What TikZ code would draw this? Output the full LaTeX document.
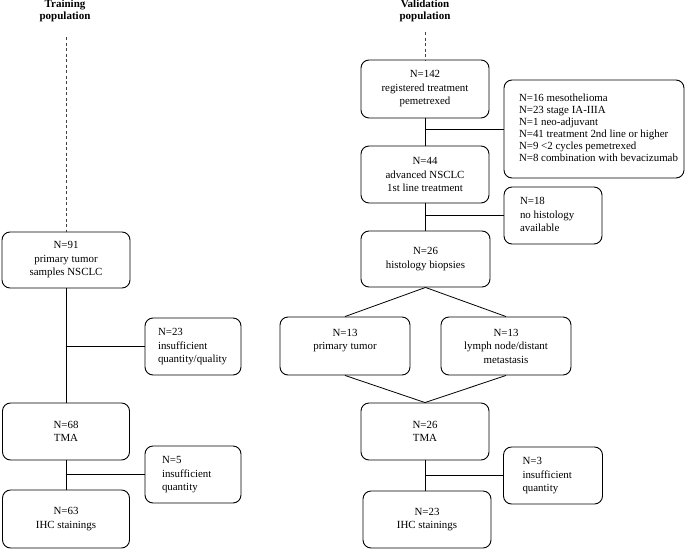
\documentclass[tikz,border=0pt]{standalone}
\usepackage{fontspec}
\setmainfont{Liberation Serif}
\newcommand{\stxt}[3]{\makebox[#2][l]{\hspace*{#1}\begin{tabular}{@{}l@{}}#3\end{tabular}}}
\begin{document}
\begin{tikzpicture}[x=1pt,y=-1pt,
  box/.style={draw,line width=0.9pt,rounded corners=8pt,align=center,inner sep=0pt,
     font=\fontsize{10.9}{13.5}\selectfont},
  sidebox/.style={draw,line width=0.9pt,rounded corners=8pt,inner sep=0pt,
     font=\fontsize{10.9}{13.5}\selectfont},
  conn/.style={line width=0.8pt},
  dashline/.style={line width=0.9pt,dash pattern=on 3pt off 2.5pt,black!75},
  title/.style={font=\fontsize{11}{12}\selectfont\bfseries,align=center,inner sep=0pt}]
\useasboundingbox (0,0) rectangle (685,549);

% titles
\node[title] (tt) at (65,11) {Training\\population};
\node[title] (vt) at (425,11) {Validation\\population};

% left column
\node[box,minimum width=128pt,minimum height=56pt] (n91) at (66,260) {N=91\\primary tumor\\samples NSCLC};
\node[sidebox,minimum width=96pt,minimum height=57pt] (n23s) at (193,346.5) {\stxt{12pt}{94pt}{N=23\\insufficient\\quantity/quality}};
\node[box,minimum width=127pt,minimum height=57pt] (n68) at (66,431.5) {N=68\\TMA};
\node[sidebox,minimum width=96pt,minimum height=57pt] (n5) at (193,474.5) {\stxt{16pt}{94pt}{N=5\\insufficient\\quantity}};
\node[box,minimum width=127pt,minimum height=58pt] (n63) at (66,519) {N=63\\IHC stainings};

\coordinate (tl) at (66,37);
\draw[dashline] (tl) -- (n91.north);
\draw[conn] (n91.south) -- (n68.north);
\draw[conn] (n23s.west) -- (n23s.west -| n91.south);
\draw[conn] (n68.south) -- (n63.north);
\draw[conn] (n5.west) -- (n5.west -| n68.south);

% right column
\node[box,minimum width=128pt,minimum height=58pt] (n142) at (425,89) {N=142\\registered treatment\\pemetrexed};
\node[sidebox,minimum width=180pt,minimum height=98pt,
  font=\fontsize{10.9}{12}\selectfont] (excl) at (594,129)
  {\stxt{14pt}{178pt}{N=16 mesothelioma\\N=23 stage IA-IIIA\\N=1 neo-adjuvant\\N=41 treatment 2nd line or higher\\N=9 <2 cycles pemetrexed\\N=8 combination with bevacizumab}};
\node[box,minimum width=128pt,minimum height=57pt] (n44) at (425,174.5) {N=44\\advanced NSCLC\\1st line treatment};
\node[sidebox,minimum width=98pt,minimum height=57pt] (n18) at (553,215.5) {\stxt{15pt}{96pt}{N=18\\no histology\\available}};
\node[box,minimum width=129pt,minimum height=56pt] (n26h) at (425.5,259) {N=26\\histology biopsies};
\node[box,minimum width=130pt,minimum height=58pt] (n13a) at (345,346) {N=13\\primary tumor\\\mbox{}};
\node[box,minimum width=130pt,minimum height=58pt] (n13b) at (506,346) {N=13\\lymph node/distant\\metastasis};
\node[box,minimum width=128pt,minimum height=57pt] (n26t) at (425,431.5) {N=26\\TMA};
\node[sidebox,minimum width=99pt,minimum height=57pt] (n3) at (553,475.5) {\stxt{18pt}{97pt}{N=3\\insufficient\\quantity}};
\node[box,minimum width=128pt,minimum height=57pt] (n23i) at (427,519.5) {N=23\\IHC stainings};

\coordinate (tr) at (425,32);
\draw[dashline] (tr) -- (tr |- n142.north);
\draw[conn] (n142.south) -- (n142.south |- n44.north);
\draw[conn] (excl.west) -- (excl.west -| n142.south);
\draw[conn] (n44.south) -- (n44.south |- n26h.north);
\draw[conn] (n18.west) -- (n18.west -| n44.south);
\draw[conn] (n26h.south) -- (n13a.north);
\draw[conn] (n26h.south) -- (n13b.north);
\draw[conn] (n13a.south) -- (n26t.north);
\draw[conn] (n13b.south) -- (n26t.north);
\draw[conn] (n26t.south) -- (n26t.south |- n23i.north);
\draw[conn] (n3.west) -- (n3.west -| n26t.south);
\end{tikzpicture}
\end{document}
